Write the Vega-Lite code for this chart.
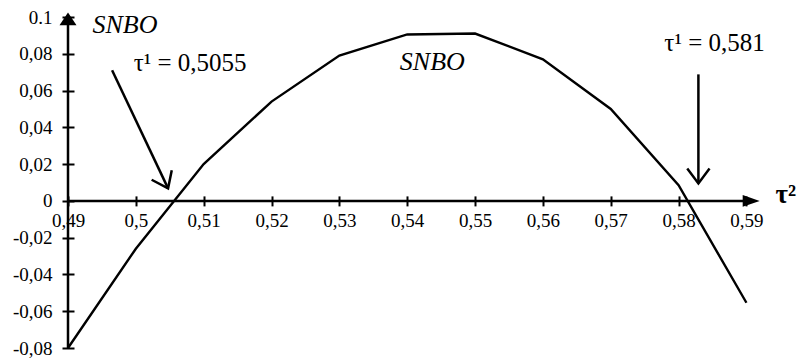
{
  "$schema": "https://vega.github.io/schema/vega-lite/v6.json",
  "width": 692,
  "height": 331,
  "autosize": {"type": "none"},
  "padding": {"left": 68, "top": 17, "right": 38, "bottom": 10},
  "background": "white",
  "config": {
    "view": {"stroke": null},
    "font": "Liberation Serif",
    "axis": {"labelOverlap": false, "labelFlush": false, "labelFont": "Liberation Serif", "labelFontSize": 19, "labelColor": "black", "grid": false, "domain": false, "tickColor": "black", "tickWidth": 2, "title": null}
  },
  "datasets": {
    "curve": [
      {"x": 0.49, "y": -0.08},
      {"x": 0.50, "y": -0.026},
      {"x": 0.51, "y": 0.02},
      {"x": 0.52, "y": 0.054},
      {"x": 0.53, "y": 0.079},
      {"x": 0.54, "y": 0.0905},
      {"x": 0.55, "y": 0.091},
      {"x": 0.56, "y": 0.077},
      {"x": 0.57, "y": 0.05},
      {"x": 0.58, "y": 0.0085},
      {"x": 0.59, "y": -0.0554}
    ],
    "axislines": [
      {"x": 0.49, "y": -0.08, "x2": 0.49, "y2": 0.097},
      {"x": 0.49, "y": 0, "x2": 0.590, "y2": 0}
    ],
    "arrowshafts": [
      {"x": 0.4965, "y": 0.071, "x2": 0.50475, "y2": 0.0068},
      {"x": 0.58292, "y": 0.0688, "x2": 0.58292, "y2": 0.0095}
    ],
    "uptip": [{"x": 0.49, "y": 0.099}],
    "righttip": [{"x": 0.5907, "y": 0}],
    "head1": [{"x": 0.50475, "y": 0.0068}],
    "head2": [{"x": 0.58292, "y": 0.0095}],
    "labels": [
      {"x": 0.4984, "y": 0.0955, "text": "SNBO"},
      {"x": 0.5437, "y": 0.0754, "text": "SNBO"}
    ],
    "taus": [
      {"x": 0.5080, "y": 0.0748, "text": "τ¹ = 0,5055"},
      {"x": 0.5853, "y": 0.0857, "text": "τ¹ = 0,581"}
    ],
    "axisname": [{"x": 0.5943, "y": 0.003, "text": "τ²"}]
  },
  "encoding": {
    "x": {
      "field": "x", "type": "quantitative",
      "scale": {"domain": [0.49, 0.592], "nice": false, "zero": false},
      "axis": {
        "values": [0.49, 0.5, 0.51, 0.52, 0.53, 0.54, 0.55, 0.56, 0.57, 0.58, 0.59],
        "labelExpr": "replace(format(datum.value, '~g'), '.', ',')",
        "tickSize": 10, "offset": -152.1, "labelPadding": 6
      }
    },
    "y": {
      "field": "y", "type": "quantitative",
      "scale": {"domain": [-0.08, 0.1], "nice": false, "zero": false},
      "axis": {
        "values": [-0.08, -0.06, -0.04, -0.02, 0, 0.02, 0.04, 0.06, 0.08, 0.1],
        "labelExpr": "datum.value > 0.099 ? '0.1' : replace(replace(format(datum.value, '~g'), '.', ','), '−', '-')",
        "tickSize": 12, "offset": -6, "labelPadding": 10
      }
    }
  },
  "layer": [
    {
      "data": {"name": "curve"},
      "mark": {"type": "line", "color": "black", "strokeWidth": 2.4, "clip": false}
    },
    {
      "data": {"name": "axislines"},
      "mark": {"type": "rule", "color": "black", "strokeWidth": 2.5},
      "encoding": {"x2": {"field": "x2"}, "y2": {"field": "y2"}}
    },
    {
      "data": {"name": "arrowshafts"},
      "mark": {"type": "rule", "color": "black", "strokeWidth": 2.5},
      "encoding": {"x2": {"field": "x2"}, "y2": {"field": "y2"}}
    },
    {
      "data": {"name": "uptip"},
      "mark": {"type": "point", "shape": "M -1 0.76 L 0 -0.76 L 1 0.76 Z", "size": 289, "filled": true, "color": "black", "opacity": 1}
    },
    {
      "data": {"name": "righttip"},
      "mark": {"type": "point", "shape": "M -1 -0.7 L 1 0 L -1 0.7 Z", "size": 289, "filled": true, "color": "black", "opacity": 1, "clip": false}
    },
    {
      "data": {"name": "head1"},
      "mark": {"type": "point", "shape": "M -0.6 -0.8 L 0 0 L 0.6 -0.8", "size": 1380, "filled": false, "color": "black", "strokeWidth": 2.5, "opacity": 1, "angle": 334.6}
    },
    {
      "data": {"name": "head2"},
      "mark": {"type": "point", "shape": "M -0.6 -0.8 L 0 0 L 0.6 -0.8", "size": 1380, "filled": false, "color": "black", "strokeWidth": 2.5, "opacity": 1}
    },
    {
      "data": {"name": "labels"},
      "mark": {"type": "text", "font": "Liberation Serif", "fontStyle": "italic", "fontSize": 26, "color": "black", "baseline": "middle", "align": "center"},
      "encoding": {"text": {"field": "text"}}
    },
    {
      "data": {"name": "taus"},
      "mark": {"type": "text", "font": "Liberation Serif", "fontSize": 25, "color": "black", "baseline": "middle", "align": "center"},
      "encoding": {"text": {"field": "text"}}
    },
    {
      "data": {"name": "axisname"},
      "mark": {"type": "text", "font": "Liberation Serif", "fontSize": 27, "fontWeight": "bold", "color": "black", "baseline": "middle", "align": "left", "clip": false},
      "encoding": {"text": {"field": "text"}}
    }
  ]
}
